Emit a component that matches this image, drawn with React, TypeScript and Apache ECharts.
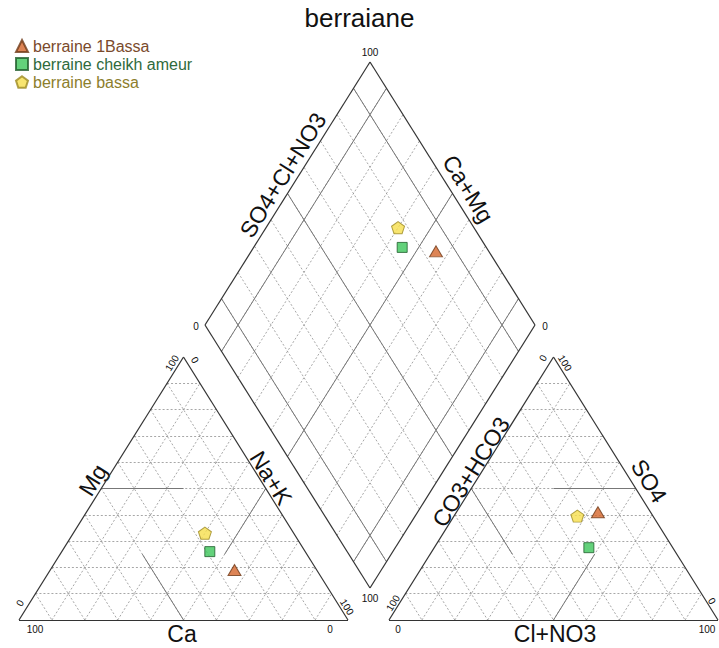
import React, { useEffect, useRef } from "react";
import * as echarts from "echarts";

// ---- data (percent of meq) ----
const sampleNames = ["berraine 1Bassa", "berraine cheikh ameur", "berraine bassa"];
const caPct = [25, 29, 27];
const mgPct = [19, 26, 33];
const naKPct = [56, 45, 40];
const hco3Pct = [16, 25.5, 23];
const so4Pct = [41, 27.5, 39.5];
const clNo3Pct = [43, 47, 37.5];

const gridSteps = [10, 20, 30, 40, 50, 60, 70, 80, 90];
const faciesSteps = [10, 50, 90];

// ---- styling ----
const fills = ["#d4652b", "#3cc65a", "#f6df4c"];
const strokes = ["#6e3a18", "#1f5c2c", "#9c8a22"];
const textColors = ["#7a4a2c", "#2f6a3c", "#8c7e2c"];
const symbols = ["triangle", "rect", "path://M0,-10 L9.51,-3.09 L5.88,8.09 L-5.88,8.09 L-9.51,-3.09 Z"];
const symbolSizes: any[] = [[13, 11], [10, 10], [13, 12]];

// ---- geometry (layout) ----
const W = 719, H = 648;
const catA = [19, 620], catB = [348, 620], catC = [183.5, 357]; // Ca, Na+K, Mg
const anA = [389, 620], anB = [718, 620], anC = [553.5, 357]; // HCO3, Cl, SO4
const dB = [370, 588], dL = [205, 325], dR = [535, 325];

type P = number[];
const tern = (A: P, B: P, C: P, a: number, b: number, c: number): P => {
  const s = a + b + c;
  return [(a * A[0] + b * B[0] + c * C[0]) / s, (a * A[1] + b * B[1] + c * C[1]) / s];
};
const diam = (cm: number, sc: number): P => [
  dB[0] + cm * (dL[0] - dB[0]) + sc * (dR[0] - dB[0]),
  dB[1] + cm * (dL[1] - dB[1]) + sc * (dR[1] - dB[1]),
];

function triGrid(A: P, B: P, C: P) {
  const segs: P[][] = [];
  gridSteps.forEach((k) => {
    const t = k / 100;
    segs.push([tern(A, B, C, 1 - t, 0, t), tern(A, B, C, 0, 1 - t, t)]);
    segs.push([tern(A, B, C, t, 0, 1 - t), tern(A, B, C, t, 1 - t, 0)]);
    segs.push([tern(A, B, C, 1 - t, t, 0), tern(A, B, C, 0, t, 1 - t)]);
  });
  return segs;
}

export default function App() {
  const ref = useRef<HTMLDivElement>(null);
  useEffect(() => {
    if (!ref.current) return;
    const chart = echarts.init(ref.current, undefined, { renderer: "svg" });

    const outline: P[][] = [
      [catA, catB], [catB, catC], [catC, catA],
      [anA, anB], [anB, anC], [anC, anA],
      [dB, dL], [dL, diam(1, 1)], [diam(1, 1), dR], [dR, dB],
    ];
    const dashed: P[][] = [...triGrid(catA, catB, catC), ...triGrid(anA, anB, anC)];
    gridSteps.forEach((k) => {
      const t = k / 100;
      dashed.push([diam(t, 0), diam(t, 1)]);
      dashed.push([diam(0, t), diam(1, t)]);
    });
    const solid: P[][] = [];
    faciesSteps.forEach((k) => {
      const t = k / 100;
      solid.push([diam(t, 0), diam(t, 1)]);
      solid.push([diam(0, t), diam(1, t)]);
    });
    solid.push([tern(catA, catB, catC, 50, 0, 50), tern(catA, catB, catC, 25, 25, 50)]);
    solid.push([tern(catA, catB, catC, 0, 50, 50), tern(catA, catB, catC, 25, 50, 25)]);
    solid.push([tern(catA, catB, catC, 50, 50, 0), tern(catA, catB, catC, 50, 25, 25)]);
    solid.push([tern(anA, anB, anC, 0, 50, 50), tern(anA, anB, anC, 25, 25, 50)]);
    solid.push([tern(anA, anB, anC, 50, 0, 50), tern(anA, anB, anC, 50, 25, 25)]);
    solid.push([tern(anA, anB, anC, 50, 50, 0), tern(anA, anB, anC, 25, 50, 25)]);

    const lineSeries = (segs: P[][], color: string, width: number, type: any) => ({
      type: "lines",
      coordinateSystem: "cartesian2d",
      silent: true,
      z: 1,
      lineStyle: { color, width, type, opacity: 1 },
      data: segs.map((s) => ({ coords: s })),
    });

    const scatterSeries = sampleNames.map((name, i) => ({
      type: "scatter",
      name,
      symbol: symbols[i],
      symbolSize: symbolSizes[i],
      z: 5,
      itemStyle: { color: fills[i], borderColor: strokes[i], borderWidth: 1 },
      data: [
        tern(catA, catB, catC, caPct[i], naKPct[i], mgPct[i]),
        tern(anA, anB, anC, hco3Pct[i], clNo3Pct[i], so4Pct[i]),
        diam((caPct[i] + mgPct[i]) / 100, (so4Pct[i] + clNo3Pct[i]) / 100),
      ],
    }));

    const ang = (58 * Math.PI) / 180;
    const font = "Liberation Sans, Arial, sans-serif";
    const label = (text: string, x: number, y: number, rot: number, size: number) => ({
      type: "text",
      x,
      y,
      rotation: rot,
      style: {
        text,
        fill: "#111",
        font: `${size}px ${font}`,
        textAlign: "center",
        textVerticalAlign: "middle",
      },
      silent: true,
    });

    chart.setOption({
      animation: false,
      backgroundColor: "#ffffff",
      title: {
        text: "berraiane",
        left: "center",
        top: 0,
        textStyle: { fontFamily: font, fontSize: 26, fontWeight: "normal", color: "#111" },
      },
      legend: {
        orient: "vertical",
        left: 10,
        top: 33,
        itemWidth: 12,
        itemHeight: 12,
        itemGap: 2,
        selectedMode: false,
        textStyle: { fontFamily: font, fontSize: 16 },
        data: sampleNames.map((n, i) => ({ name: n, icon: symbols[i], textStyle: { color: textColors[i] } })),
      },
      grid: { left: 0, right: 0, top: 0, bottom: 0, containLabel: false },
      xAxis: { type: "value", min: 0, max: W, show: false },
      yAxis: { type: "value", min: 0, max: H, inverse: true, show: false },
      series: [
        lineSeries(dashed, "#909090", 0.8, [2, 2]),
        lineSeries(solid, "#777777", 1, "solid"),
        lineSeries(outline, "#333333", 1.2, "solid"),
        ...scatterSeries,
      ],
      graphic: [
        label("SO4+Cl+NO3", 283, 175, ang, 23),
        label("Ca+Mg", 468, 189, -ang, 23),
        label("Mg", 93, 480, ang, 23),
        label("Na+K", 271, 478, -ang, 23),
        label("Ca", 182, 634, 0, 23),
        label("CO3+HCO3", 471, 472, ang, 23),
        label("SO4", 649, 481, -ang, 23),
        label("Cl+NO3", 555, 634, 0, 23),
        label("100", 370, 52, 0, 10),
        label("0", 196, 326, 0, 10),
        label("0", 545, 326, 0, 10),
        label("100", 370, 598, 0, 10),
        label("100", 172, 363, ang, 10),
        label("0", 195, 360, -ang, 10),
        label("0", 20, 603, ang, 10),
        label("100", 35, 629, 0, 10),
        label("0", 330, 629, 0, 10),
        label("100", 347, 607, -ang, 10),
        label("0", 543, 358, ang, 10),
        label("100", 565, 363, -ang, 10),
        label("100", 393, 603, ang, 10),
        label("0", 398, 629, 0, 10),
        label("100", 707, 629, 0, 10),
        label("0", 712, 601, -ang, 10),
      ],
    });
    return () => chart.dispose();
  }, []);
  return <div ref={ref} style={{ position: "absolute", left: 0, top: 0, width: W, height: H }} />;
}
